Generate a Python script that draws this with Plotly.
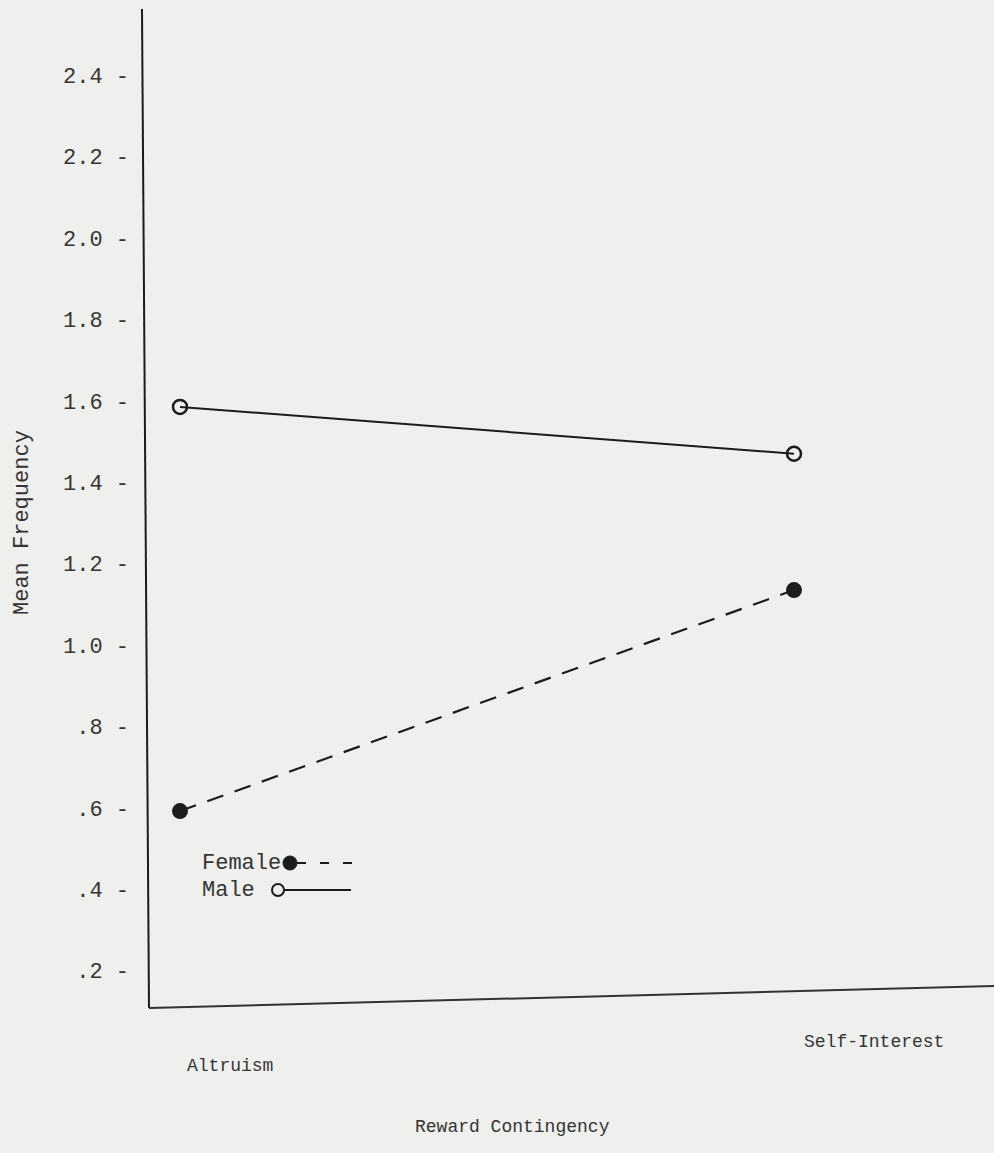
import plotly.graph_objects as go

# ---- data ----
categories = ["Altruism", "Self-Interest"]
male_values = [1.585, 1.47]
female_values = [0.592, 1.135]
y_tick_values = [0.2, 0.4, 0.6, 0.8, 1.0, 1.2, 1.4, 1.6, 1.8, 2.0, 2.2, 2.4]
y_tick_labels = [".2 -", ".4 -", ".6 -", ".8 -", "1.0 -", "1.2 -", "1.4 -",
                 "1.6 -", "1.8 -", "2.0 -", "2.2 -", "2.4 -"]
legend_labels = ["Female", "Male"]
x_title = "Reward Contingency"
y_title = "Mean Frequency"

# ---- layout geometry (pixels) ----
W, H = 994, 1153
L, R, T, B = 146, 0, 8, 145
PW, PH = W - L - R, H - T - B

def px(x):
    return (x - L) / PW

def py(y):
    return (H - B - y) / PH

FONT = "Liberation Mono, Courier New, monospace"
FS = 22
FS_SMALL = 18
INK = "#1c1c1c"
TXT = "#353535"
BG = "#efefee"

fig = go.Figure()
fig.add_trace(go.Scatter(
    x=categories, y=male_values, mode="lines+markers", name=legend_labels[1],
    line=dict(color=INK, width=2),
    marker=dict(symbol="circle-open", size=14, color=INK, line=dict(width=2.5, color=INK)),
    showlegend=False))
fig.add_trace(go.Scatter(
    x=categories, y=female_values, mode="lines+markers", name=legend_labels[0],
    line=dict(color=INK, width=2.2, dash="17px,12px"),
    marker=dict(symbol="circle", size=16, color=INK),
    showlegend=False))

shapes = []
# axes (hand-drawn, slightly tilted as in the scan)
shapes.append(dict(type="line", xref="paper", yref="paper",
                   x0=px(142), y0=py(9), x1=px(149), y1=py(1008),
                   line=dict(color=INK, width=2)))
shapes.append(dict(type="line", xref="paper", yref="paper",
                   x0=px(149), y0=py(1008), x1=px(994), y1=py(986),
                   line=dict(color="#333333", width=2)))
# legend samples
shapes.append(dict(type="circle", xref="paper", yref="paper",
                   x0=px(283), x1=px(297), y0=py(856), y1=py(870),
                   fillcolor=INK, line=dict(color=INK, width=1)))
shapes.append(dict(type="line", xref="paper", yref="paper",
                   x0=px(297), y0=py(863), x1=px(354), y1=py(863),
                   line=dict(color=INK, width=2, dash="9px,14px")))
shapes.append(dict(type="circle", xref="paper", yref="paper",
                   x0=px(272), x1=px(284), y0=py(884), y1=py(896),
                   fillcolor="rgba(0,0,0,0)", line=dict(color=INK, width=2)))
shapes.append(dict(type="line", xref="paper", yref="paper",
                   x0=px(284), y0=py(890), x1=px(351), y1=py(890),
                   line=dict(color=INK, width=2)))

annotations = []
font = dict(family=FONT, size=FS, color=TXT)
font_small = dict(family=FONT, size=FS_SMALL, color=TXT)
# legend labels
annotations.append(dict(text=legend_labels[0], xref="paper", yref="paper",
                        x=px(200), y=py(863), xanchor="left", yanchor="middle",
                        showarrow=False, font=font))
annotations.append(dict(text=legend_labels[1], xref="paper", yref="paper",
                        x=px(200), y=py(890), xanchor="left", yanchor="middle",
                        showarrow=False, font=font))
# category labels (staggered as in the original)
annotations.append(dict(text=categories[0], xref="x", yref="paper",
                        x=categories[0], y=py(1066), xanchor="left", yanchor="middle",
                        xshift=5, showarrow=False, font=font_small))
annotations.append(dict(text=categories[1], xref="x", yref="paper",
                        x=categories[1], y=py(1042), xanchor="left", yanchor="middle",
                        xshift=8, showarrow=False, font=font_small))
# axis titles
annotations.append(dict(text=x_title, xref="paper", yref="paper",
                        x=px(512), y=py(1127), xanchor="center", yanchor="middle",
                        showarrow=False, font=font_small))
annotations.append(dict(text=y_title, xref="paper", yref="paper",
                        x=px(22), y=py(523), xanchor="center", yanchor="middle",
                        textangle=-90, showarrow=False, font=font))

x_unit = 614.0
x_left = -(180 - L) / x_unit
x_right = (PW - (180 - L)) / x_unit

fig.update_layout(
    width=W, height=H,
    margin=dict(l=L, r=R, t=T, b=B),
    paper_bgcolor=BG, plot_bgcolor=BG,
    showlegend=False,
    shapes=shapes, annotations=annotations,
    xaxis=dict(type="category", range=[x_left, x_right], showgrid=False,
               zeroline=False, showline=False, showticklabels=False, ticks=""),
    yaxis=dict(range=[(1052 - 1008) / 407, (1052 - 8) / 407], showgrid=False,
               zeroline=False, showline=False, ticks="",
               tickvals=y_tick_values, ticktext=y_tick_labels,
               ticklabelstandoff=16,
               tickfont=dict(family=FONT, size=FS, color=TXT)),
)

fig.write_html("out.html",
               config={"displayModeBar": False},
               post_script="document.body.style.margin='0';document.body.style.background='#efefee';")
